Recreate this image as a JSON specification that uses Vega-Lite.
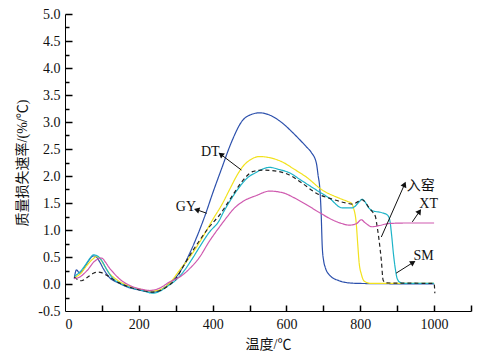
{
  "$schema": "https://vega.github.io/schema/vega-lite/v6.json",
  "width": 406,
  "height": 297,
  "autosize": {"type": "none"},
  "padding": {"left": 65, "top": 14, "right": 19, "bottom": 49},
  "background": "white",
  "config": {
    "view": {"stroke": null},
    "axis": {"grid": false, "domainColor": "#000", "labelColor": "#111", "titleColor": "#111", "labelFont": "Liberation Serif", "labelFontSize": 14, "titleFont": "Liberation Serif, Noto Sans CJK SC", "titleFontSize": 14, "titleFontWeight": "normal"}
  },
  "resolve": {"scale": {"x": "independent", "y": "independent"}, "axis": {"x": "independent", "y": "independent"}},
  "datasets": {
    "curves": [
      {"s":"DT","T":25,"v":0.10},{"s":"DT","T":31,"v":0.26},{"s":"DT","T":40,"v":0.20},{"s":"DT","T":55,"v":0.33},{"s":"DT","T":65,"v":0.44},{"s":"DT","T":77,"v":0.52},{"s":"DT","T":85,"v":0.50},{"s":"DT","T":94,"v":0.41},{"s":"DT","T":105,"v":0.27},{"s":"DT","T":122,"v":0.11},{"s":"DT","T":145,"v":0.02},{"s":"DT","T":167,"v":-0.05},{"s":"DT","T":200,"v":-0.11},{"s":"DT","T":221,"v":-0.14},{"s":"DT","T":240,"v":-0.15},{"s":"DT","T":262,"v":-0.10},{"s":"DT","T":284,"v":0.02},{"s":"DT","T":300,"v":0.12},{"s":"DT","T":319,"v":0.31},{"s":"DT","T":340,"v":0.60},{"s":"DT","T":357,"v":0.87},{"s":"DT","T":380,"v":1.28},{"s":"DT","T":400,"v":1.68},{"s":"DT","T":425,"v":2.15},{"s":"DT","T":450,"v":2.61},{"s":"DT","T":480,"v":3.02},{"s":"DT","T":505,"v":3.14},{"s":"DT","T":527,"v":3.17},{"s":"DT","T":550,"v":3.14},{"s":"DT","T":589,"v":2.98},{"s":"DT","T":616,"v":2.81},{"s":"DT","T":654,"v":2.54},{"s":"DT","T":667,"v":2.44},{"s":"DT","T":681,"v":2.24},{"s":"DT","T":686,"v":2.0},{"s":"DT","T":690,"v":1.8},{"s":"DT","T":694,"v":1.31},{"s":"DT","T":697,"v":0.69},{"s":"DT","T":701,"v":0.42},{"s":"DT","T":705,"v":0.31},{"s":"DT","T":716,"v":0.17},{"s":"DT","T":743,"v":0.06},{"s":"DT","T":770,"v":0.02},{"s":"DT","T":800,"v":0.01},{"s":"DT","T":1000,"v":0.0},

      {"s":"GY","T":25,"v":0.12},{"s":"GY","T":40,"v":0.18},{"s":"GY","T":60,"v":0.35},{"s":"GY","T":75,"v":0.46},{"s":"GY","T":86,"v":0.51},{"s":"GY","T":95,"v":0.47},{"s":"GY","T":105,"v":0.36},{"s":"GY","T":120,"v":0.20},{"s":"GY","T":140,"v":0.08},{"s":"GY","T":170,"v":-0.03},{"s":"GY","T":200,"v":-0.09},{"s":"GY","T":235,"v":-0.13},{"s":"GY","T":260,"v":-0.10},{"s":"GY","T":284,"v":0.02},{"s":"GY","T":311,"v":0.26},{"s":"GY","T":335,"v":0.47},{"s":"GY","T":357,"v":0.69},{"s":"GY","T":380,"v":0.95},{"s":"GY","T":400,"v":1.19},{"s":"GY","T":425,"v":1.47},{"s":"GY","T":446,"v":1.75},{"s":"GY","T":465,"v":2.0},{"s":"GY","T":481,"v":2.17},{"s":"GY","T":500,"v":2.29},{"s":"GY","T":527,"v":2.36},{"s":"GY","T":560,"v":2.33},{"s":"GY","T":589,"v":2.26},{"s":"GY","T":620,"v":2.13},{"s":"GY","T":654,"v":1.98},{"s":"GY","T":697,"v":1.74},{"s":"GY","T":743,"v":1.59},{"s":"GY","T":765,"v":1.53},{"s":"GY","T":775,"v":1.50},{"s":"GY","T":782,"v":1.40},{"s":"GY","T":789,"v":1.13},{"s":"GY","T":793,"v":0.75},{"s":"GY","T":797,"v":0.39},{"s":"GY","T":803,"v":0.18},{"s":"GY","T":811,"v":0.05},{"s":"GY","T":830,"v":0.01},{"s":"GY","T":1000,"v":0.01},

      {"s":"SM","T":25,"v":0.14},{"s":"SM","T":40,"v":0.22},{"s":"SM","T":55,"v":0.35},{"s":"SM","T":67,"v":0.47},{"s":"SM","T":77,"v":0.54},{"s":"SM","T":88,"v":0.52},{"s":"SM","T":99,"v":0.44},{"s":"SM","T":112,"v":0.28},{"s":"SM","T":130,"v":0.10},{"s":"SM","T":150,"v":0.01},{"s":"SM","T":180,"v":-0.07},{"s":"SM","T":210,"v":-0.12},{"s":"SM","T":238,"v":-0.17},{"s":"SM","T":258,"v":-0.13},{"s":"SM","T":276,"v":-0.05},{"s":"SM","T":300,"v":0.07},{"s":"SM","T":320,"v":0.22},{"s":"SM","T":345,"v":0.47},{"s":"SM","T":365,"v":0.69},{"s":"SM","T":390,"v":0.95},{"s":"SM","T":419,"v":1.19},{"s":"SM","T":427,"v":1.30},{"s":"SM","T":450,"v":1.57},{"s":"SM","T":473,"v":1.80},{"s":"SM","T":495,"v":1.97},{"s":"SM","T":519,"v":2.07},{"s":"SM","T":540,"v":2.14},{"s":"SM","T":554,"v":2.16},{"s":"SM","T":580,"v":2.12},{"s":"SM","T":608,"v":2.06},{"s":"SM","T":640,"v":1.92},{"s":"SM","T":681,"v":1.74},{"s":"SM","T":716,"v":1.59},{"s":"SM","T":751,"v":1.41},{"s":"SM","T":778,"v":1.41},{"s":"SM","T":797,"v":1.52},{"s":"SM","T":805,"v":1.57},{"s":"SM","T":812,"v":1.53},{"s":"SM","T":822,"v":1.42},{"s":"SM","T":832,"v":1.36},{"s":"SM","T":859,"v":1.32},{"s":"SM","T":873,"v":1.28},{"s":"SM","T":880,"v":1.18},{"s":"SM","T":885,"v":0.9},{"s":"SM","T":890,"v":0.55},{"s":"SM","T":895,"v":0.28},{"s":"SM","T":900,"v":0.10},{"s":"SM","T":908,"v":0.03},{"s":"SM","T":920,"v":0.01},{"s":"SM","T":1000,"v":0.01},

      {"s":"RY","T":25,"v":0.13},{"s":"RY","T":35,"v":0.08},{"s":"RY","T":45,"v":0.06},{"s":"RY","T":60,"v":0.12},{"s":"RY","T":77,"v":0.20},{"s":"RY","T":90,"v":0.22},{"s":"RY","T":99,"v":0.21},{"s":"RY","T":110,"v":0.17},{"s":"RY","T":122,"v":0.13},{"s":"RY","T":135,"v":0.06},{"s":"RY","T":150,"v":0.01},{"s":"RY","T":180,"v":-0.07},{"s":"RY","T":210,"v":-0.12},{"s":"RY","T":235,"v":-0.15},{"s":"RY","T":258,"v":-0.12},{"s":"RY","T":280,"v":-0.03},{"s":"RY","T":300,"v":0.09},{"s":"RY","T":319,"v":0.31},{"s":"RY","T":340,"v":0.55},{"s":"RY","T":365,"v":0.81},{"s":"RY","T":390,"v":1.05},{"s":"RY","T":419,"v":1.28},{"s":"RY","T":451,"v":1.61},{"s":"RY","T":480,"v":1.90},{"s":"RY","T":508,"v":2.08},{"s":"RY","T":535,"v":2.11},{"s":"RY","T":560,"v":2.10},{"s":"RY","T":608,"v":2.02},{"s":"RY","T":640,"v":1.88},{"s":"RY","T":681,"v":1.68},{"s":"RY","T":720,"v":1.58},{"s":"RY","T":762,"v":1.50},{"s":"RY","T":780,"v":1.48},{"s":"RY","T":795,"v":1.53},{"s":"RY","T":805,"v":1.56},{"s":"RY","T":815,"v":1.50},{"s":"RY","T":825,"v":1.40},{"s":"RY","T":835,"v":1.32},{"s":"RY","T":841,"v":1.25},{"s":"RY","T":846,"v":1.05},{"s":"RY","T":851,"v":0.81},{"s":"RY","T":857,"v":0.44},{"s":"RY","T":862,"v":0.07},{"s":"RY","T":870,"v":0.02},{"s":"RY","T":1000,"v":0.01},{"s":"RY","T":1002,"v":-0.17},

      {"s":"XT","T":25,"v":0.10},{"s":"XT","T":40,"v":0.13},{"s":"XT","T":60,"v":0.25},{"s":"XT","T":80,"v":0.42},{"s":"XT","T":99,"v":0.48},{"s":"XT","T":110,"v":0.40},{"s":"XT","T":120,"v":0.30},{"s":"XT","T":130,"v":0.22},{"s":"XT","T":150,"v":0.08},{"s":"XT","T":180,"v":-0.04},{"s":"XT","T":210,"v":-0.10},{"s":"XT","T":230,"v":-0.12},{"s":"XT","T":255,"v":-0.08},{"s":"XT","T":284,"v":0.04},{"s":"XT","T":311,"v":0.13},{"s":"XT","T":340,"v":0.30},{"s":"XT","T":365,"v":0.50},{"s":"XT","T":390,"v":0.78},{"s":"XT","T":419,"v":1.06},{"s":"XT","T":440,"v":1.25},{"s":"XT","T":454,"v":1.37},{"s":"XT","T":480,"v":1.52},{"s":"XT","T":519,"v":1.64},{"s":"XT","T":554,"v":1.72},{"s":"XT","T":590,"v":1.69},{"s":"XT","T":620,"v":1.60},{"s":"XT","T":654,"v":1.47},{"s":"XT","T":690,"v":1.32},{"s":"XT","T":724,"v":1.19},{"s":"XT","T":750,"v":1.12},{"s":"XT","T":770,"v":1.09},{"s":"XT","T":790,"v":1.12},{"s":"XT","T":803,"v":1.19},{"s":"XT","T":812,"v":1.14},{"s":"XT","T":832,"v":1.06},{"s":"XT","T":850,"v":1.08},{"s":"XT","T":878,"v":1.12},{"s":"XT","T":930,"v":1.13},{"s":"XT","T":1000,"v":1.13}
    ],
    "arrows": [
      {"label":"DT","x1":478,"y1":2.11,"x2":424,"y2":2.39,"tx":419,"ty":2.44},
      {"label":"GY","x1":384,"y1":1.31,"x2":359,"y2":1.37,"tx":355,"ty":1.43},
      {"label":"入窑","x1":857,"y1":0.87,"x2":919,"y2":1.83,"tx":926,"ty":1.82},
      {"label":"XT","x1":941,"y1":1.15,"x2":959,"y2":1.33,"tx":960,"ty":1.48},
      {"label":"SM","x1":897,"y1":0.2,"x2":941,"y2":0.39,"tx":944,"ty":0.52}
    ]
  },
  "layer": [
    {
      "data": {"name": "curves"},
      "mark": {"type": "line", "strokeWidth": 1.2, "interpolate": "monotone"},
      "encoding": {
        "x": {"field": "T", "type": "quantitative", "scale": {"domain": [0, 1100], "nice": false},
          "axis": {"orient": "bottom", "title": "温度/℃", "values": [0,200,400,600,800,1000], "format": "d", "ticks": true, "tickSize": 0, "labelPadding": 6, "titlePadding": 6, "labelOverlap": false}},
        "y": {"field": "v", "type": "quantitative", "scale": {"domain": [-0.5, 5.0], "nice": false},
          "axis": {"orient": "left", "title": "质量损失速率/(%/℃)", "values": [-0.5,0,0.5,1,1.5,2,2.5,3,3.5,4,4.5,5], "labelExpr": "replace(format(datum.value, '.1f'), '\u2212', '-')", "ticks": true, "tickSize": 0, "labelPadding": 5, "titlePadding": 8, "labelOverlap": false}},
        "color": {"field": "s", "type": "nominal", "legend": null, "scale": {"domain": ["DT","GY","SM","RY","XT"], "range": ["#2C50AC","#F2E21E","#1DB4C8","#222222","#CF5AAF"]}},
        "strokeDash": {"field": "s", "type": "nominal", "legend": null, "scale": {"domain": ["DT","GY","SM","RY","XT"], "range": [[1,0],[1,0],[1,0],[4,3],[1,0]]}}
      }
    },
    {
      "data": {"name": "arrows"},
      "mark": {"type": "rule", "color": "#111", "strokeWidth": 1},
      "encoding": {
        "x": {"field": "x1", "type": "quantitative", "scale": {"domain": [0, 1100], "nice": false},
          "axis": {"orient": "top", "offset": -297, "title": null, "labels": false, "domain": false, "ticks": true, "tickSize": 6, "tickColor": "#000", "tickWidth": 1.5, "zindex": 1, "values": [100,200,300,400,500,600,700,800,900,1000,1100]}},
        "y": {"field": "y1", "type": "quantitative", "scale": {"domain": [-0.5, 5.0], "nice": false},
          "axis": {"orient": "right", "offset": -406, "title": null, "labels": false, "domain": false, "ticks": true, "tickSize": 7, "tickColor": "#000", "tickWidth": 1.5, "zindex": 1, "values": [0,0.5,1,1.5,2,2.5,3,3.5,4,4.5,5]}},
        "x2": {"field": "x2"}, "y2": {"field": "y2"}
      }
    },
    {
      "data": {"name": "arrows"},
      "transform": [{"filter": "datum.label == 'DT'"}],
      "mark": {"type": "point", "shape": "triangle", "filled": true, "color": "#111", "size": 40, "angle": 307, "opacity": 1},
      "encoding": {"x": {"field": "x2", "type": "quantitative", "scale": {"domain": [0, 1100], "nice": false}, "axis": null}, "y": {"field": "y2", "type": "quantitative", "scale": {"domain": [-0.5, 5.0], "nice": false}, "axis": null}}
    },
    {
      "data": {"name": "arrows"},
      "transform": [{"filter": "datum.label == 'GY'"}],
      "mark": {"type": "point", "shape": "triangle", "filled": true, "color": "#111", "size": 40, "angle": 288, "opacity": 1},
      "encoding": {"x": {"field": "x2", "type": "quantitative", "scale": {"domain": [0, 1100], "nice": false}, "axis": null}, "y": {"field": "y2", "type": "quantitative", "scale": {"domain": [-0.5, 5.0], "nice": false}, "axis": null}}
    },
    {
      "data": {"name": "arrows"},
      "transform": [{"filter": "datum.label == '入窑'"}],
      "mark": {"type": "point", "shape": "triangle", "filled": true, "color": "#111", "size": 40, "angle": 24, "opacity": 1},
      "encoding": {"x": {"field": "x2", "type": "quantitative", "scale": {"domain": [0, 1100], "nice": false}, "axis": null}, "y": {"field": "y2", "type": "quantitative", "scale": {"domain": [-0.5, 5.0], "nice": false}, "axis": null}}
    },
    {
      "data": {"name": "arrows"},
      "transform": [{"filter": "datum.label == 'XT'"}],
      "mark": {"type": "point", "shape": "triangle", "filled": true, "color": "#111", "size": 40, "angle": 35, "opacity": 1},
      "encoding": {"x": {"field": "x2", "type": "quantitative", "scale": {"domain": [0, 1100], "nice": false}, "axis": null}, "y": {"field": "y2", "type": "quantitative", "scale": {"domain": [-0.5, 5.0], "nice": false}, "axis": null}}
    },
    {
      "data": {"name": "arrows"},
      "transform": [{"filter": "datum.label == 'SM'"}],
      "mark": {"type": "point", "shape": "triangle", "filled": true, "color": "#111", "size": 40, "angle": 58, "opacity": 1},
      "encoding": {"x": {"field": "x2", "type": "quantitative", "scale": {"domain": [0, 1100], "nice": false}, "axis": null}, "y": {"field": "y2", "type": "quantitative", "scale": {"domain": [-0.5, 5.0], "nice": false}, "axis": null}}
    },
    {
      "data": {"name": "arrows"},
      "transform": [{"filter": "datum.label == 'DT' || datum.label == 'GY'"}],
      "mark": {"type": "text", "align": "right", "baseline": "middle", "fontSize": 14, "font": "Liberation Serif", "color": "#111"},
      "encoding": {
        "x": {"field": "tx", "type": "quantitative", "scale": {"domain": [0, 1100], "nice": false}, "axis": null},
        "y": {"field": "ty", "type": "quantitative", "scale": {"domain": [-0.5, 5.0], "nice": false},
          "axis": {"orient": "right", "offset": -406, "title": null, "labels": false, "domain": false, "ticks": true, "tickSize": 4, "tickColor": "#000", "tickWidth": 1.5, "zindex": 1, "values": [-0.25,0.25,0.75,1.25,1.75,2.25,2.75,3.25,3.75,4.25,4.75]}},
        "text": {"field": "label"}}
    },
    {
      "data": {"name": "arrows"},
      "transform": [{"filter": "datum.label != 'DT' && datum.label != 'GY'"}],
      "mark": {"type": "text", "align": "left", "baseline": "middle", "fontSize": 14, "font": "Liberation Serif, Noto Sans CJK SC", "color": "#111"},
      "encoding": {"x": {"field": "tx", "type": "quantitative", "scale": {"domain": [0, 1100], "nice": false}, "axis": null}, "y": {"field": "ty", "type": "quantitative", "scale": {"domain": [-0.5, 5.0], "nice": false}, "axis": null}, "text": {"field": "label"}}
    }
  ]
}
